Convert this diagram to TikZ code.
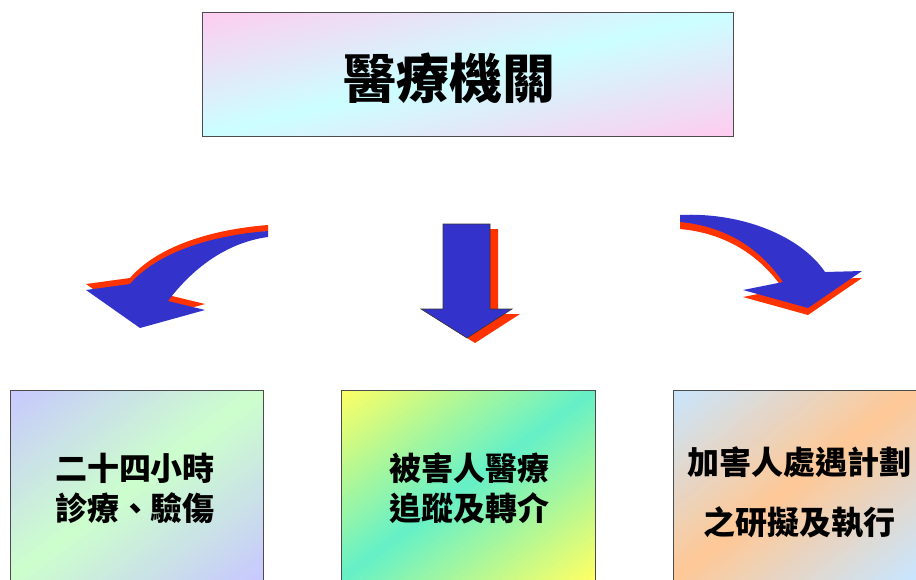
\documentclass[tikz,border=0pt]{standalone}
\usepackage{fontspec}
\newfontfamily\cjk{Noto Sans CJK TC}
\definecolor{ablue}{RGB}{51,51,204}
\definecolor{ared}{RGB}{255,51,0}
\definecolor{pinkc}{RGB}{255,204,240}
\definecolor{cyanc}{RGB}{204,255,255}
\definecolor{lavc}{RGB}{200,200,255}
\definecolor{greenc}{RGB}{204,255,204}
\definecolor{yelc}{RGB}{255,255,100}
\definecolor{aquac}{RGB}{100,240,200}
\definecolor{lbluec}{RGB}{200,230,255}
\definecolor{peachc}{RGB}{255,200,150}
\tikzset{
  boxframe/.style={draw=black!70, line width=0.8pt},
  bigtext/.style={font=\cjk\bfseries\fontsize{53}{60}\selectfont, inner sep=0pt},
  boxtext/.style={font=\cjk\bfseries\fontsize{32}{40}\selectfont, align=center, inner sep=0pt},
  bluearrow/.style={fill=ablue},
  redarrow/.style={fill=ared},
}
% diagonal gradient: x0 y0 x1 y1 endcolour midcolour
\newcommand\diaggrad[6]{%
  \begin{scope}
  \clip (#1,#2) rectangle (#3,#4);
  \pgfmathsetmacro\gw{#3-#1}
  \pgfmathsetmacro\gh{#4-#2}
  \foreach \i in {0,...,59} {
    \pgfmathsetmacro\ga{2*\i/60}
    \pgfmathsetmacro\gb{2*(\i+1.3)/60}
    \pgfmathsetmacro\gm{100*(1-abs(2*(\i+0.5)/60-1))}
    \fill[#6!\gm!#5] ({#1+\gw*(\ga+1)},{#2-\gh}) -- ({#1+\gw*(\gb+1)},{#2-\gh}) -- ({#1+\gw*(\gb-2)},{#2+2*\gh}) -- ({#1+\gw*(\ga-2)},{#2+2*\gh}) -- cycle;
  }
  \end{scope}
}
\begin{document}
\begin{tikzpicture}[x=1pt,y=-1pt]
\clip (0,0) rectangle (916,579);
\fill[white] (0,0) rectangle (916,579);
% top box
\diaggrad{202}{12}{733}{136}{pinkc}{cyanc}
\draw[boxframe] (202,12) rectangle (733,136);
\node[bigtext] (top) at (449,78) {醫療機關};
% bottom boxes
\diaggrad{10}{390}{263}{579}{lavc}{greenc}
\draw[boxframe] (10,390) rectangle (263,610);
\diaggrad{341}{390}{595}{579}{yelc}{aquac}
\draw[boxframe] (341,390) rectangle (595,610);
\diaggrad{673}{390}{916}{579}{lbluec}{peachc}
\draw[boxframe] (673,390) rectangle (940,610);
\node[boxtext] (b1) at (135,488) {二十四小時\\診療、驗傷};
\node[boxtext] (b2) at (469,488) {被害人醫療\\追蹤及轉介};
\node[boxtext, font=\cjk\bfseries\fontsize{32}{60}\selectfont] (b3) at (799,492) {加害人處遇計劃\\之研擬及執行};
% left curved arrow
\begin{scope}[shift={(0,-6)}]
\fill[redarrow] (268,231) .. controls (205,236) and (155,255) .. (130,284) -- (86,290) -- (140,328) -- (205,310) -- (168,301) .. controls (195,265) and (230,242) .. (268,237) -- cycle;
\end{scope}
\fill[bluearrow] (268,231) .. controls (205,236) and (155,255) .. (130,284) -- (86,290) -- (140,328) -- (205,310) -- (168,301) .. controls (195,265) and (230,242) .. (268,237) -- cycle;
% middle arrow
\fill[redarrow] (451,229) -- (498,229) -- (498,314) -- (520,314) -- (475,343) -- (429,314) -- (451,314) -- cycle;
\filldraw[bluearrow, draw=black!80, line width=0.6pt] (443,224) -- (490,224) -- (490,309) -- (512,309) -- (467,338) -- (421,309) -- (443,309) -- cycle;
% right curved arrow
\begin{scope}[shift={(0,7)}]
\fill[redarrow] (680,215) .. controls (740,212) and (800,235) .. (825,272) -- (862,271) -- (808,308) -- (743,290) -- (783,282) .. controls (760,248) and (725,226) .. (680,222) -- cycle;
\end{scope}
\fill[bluearrow] (680,215) .. controls (740,212) and (800,235) .. (825,272) -- (862,271) -- (808,308) -- (743,290) -- (783,282) .. controls (760,248) and (725,226) .. (680,222) -- cycle;
\end{tikzpicture}
\end{document}
